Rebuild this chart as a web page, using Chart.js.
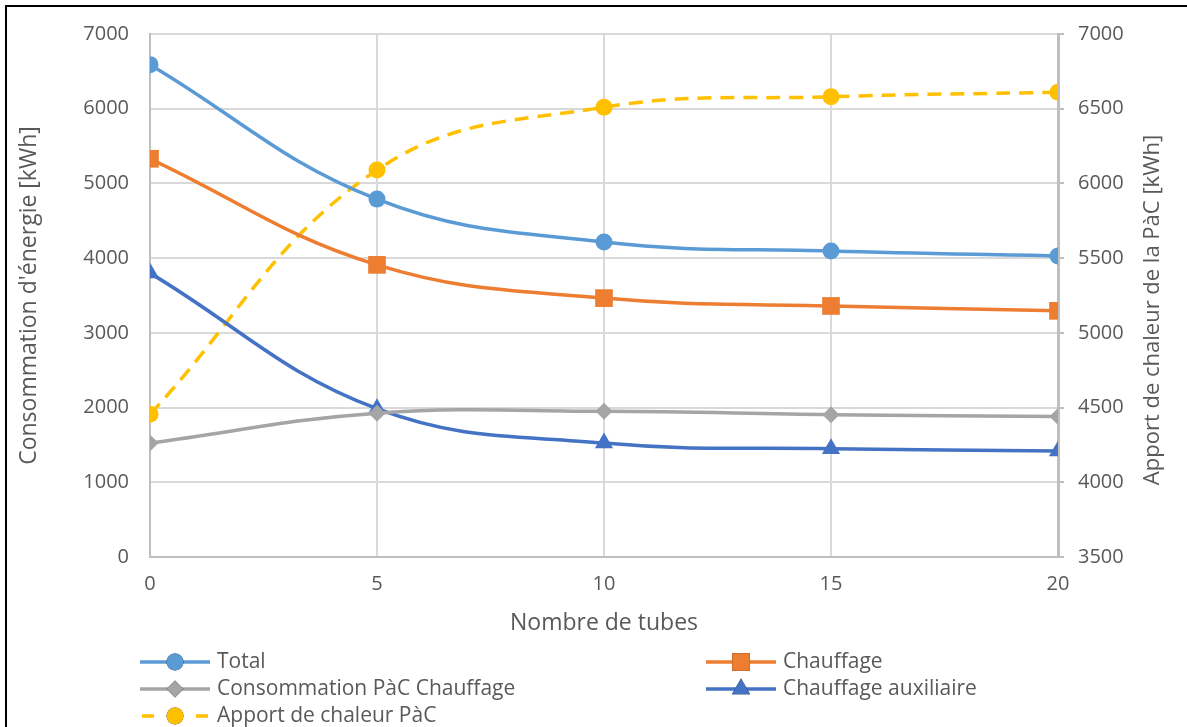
<!DOCTYPE html>
<html>
<head>
<meta charset="utf-8">
<script src="https://cdn.jsdelivr.net/npm/chart.js@4/dist/chart.umd.min.js"></script>
<style>
  html, body { margin: 0; padding: 0; background: #fff; }
  #wrap { position: relative; width: 1187px; height: 727px; }
</style>
</head>
<body>
<div id="wrap"><canvas id="tubesChart" width="1187" height="727"></canvas></div>
<script>
// Nombre de tubes (axe X)
const tubes = [0, 5, 10, 15, 20];

// Consommations (axe de gauche, kWh)
const total = [6590, 4790, 4215, 4095, 4030];
const chauffage = [5330, 3910, 3465, 3360, 3295];
const consoPac = [1525, 1925, 1950, 1905, 1880];
const chauffageAux = [3800, 1985, 1525, 1450, 1420];

// Apport de chaleur de la PàC (axe de droite, kWh)
const apportPac = [4455, 6090, 6510, 6580, 6610];

// Graduations des axes
const leftTicks = [0, 1000, 2000, 3000, 4000, 5000, 6000, 7000];
const rightTicks = [3500, 4000, 4500, 5000, 5500, 6000, 6500, 7000];

const FONT = "'Open Sans', sans-serif";
const TEXT = '#595959';
const rightTitle = 'Apport de chaleur de la PàC [kWh]';

function pts(vals) {
    return tubes.map((t, i) => ({ x: t, y: vals[i] }));
}

// cadre noir en haut et à gauche + titre de l'axe droit (lu de bas en haut)
const cadre = {
    id: 'cadre',
    beforeDraw(chart) {
        const c = chart.ctx;
        c.save();
        c.fillStyle = '#fff';
        c.fillRect(0, 0, chart.width, chart.height);
        c.fillStyle = '#000';
        c.fillRect(5, 5, chart.width - 5, 2);
        c.fillRect(5, 5, 2, chart.height - 5);
        c.restore();
    },
    afterDraw(chart) {
        const c = chart.ctx;
        c.save();
        c.translate(1153, 310);
        c.rotate(-Math.PI / 2);
        c.fillStyle = TEXT;
        c.font = '22px ' + FONT;
        c.textAlign = 'center';
        c.textBaseline = 'middle';
        c.fillText(rightTitle, 0, 0);
        c.restore();
    }
};

// légende sur deux colonnes, dessinée à partir des datasets
const legende = {
    id: 'legende',
    afterDraw(chart) {
        const c = chart.ctx;
        const cols = [140, 706];
        const rows = [662, 689, 716];
        chart.data.datasets.forEach((ds, i) => {
            const x = cols[i % 2];
            const y = rows[Math.floor(i / 2)];
            c.save();
            c.setLineDash([]);
            c.strokeStyle = ds.borderColor;
            c.lineWidth = ds.borderWidth;
            c.lineCap = 'butt';
            c.beginPath();
            if (ds.borderDash) {
                // un tiret de chaque côté du marqueur
                c.moveTo(x + 2, y); c.lineTo(x + 14, y);
                c.moveTo(x + 56, y); c.lineTo(x + 68, y);
            } else {
                c.moveTo(x, y); c.lineTo(x + 70, y);
            }
            c.stroke();
            Chart.helpers.drawPoint(c, {
                pointStyle: ds.pointStyle,
                radius: ds.pointRadius,
                borderWidth: 0
            }, x + 35, y);
            c.fillStyle = ds.backgroundColor;
            c.fill();
            c.fillStyle = TEXT;
            c.font = '21px ' + FONT;
            c.textBaseline = 'middle';
            c.fillText(ds.label, x + 77, y);
            c.restore();
        });
    }
};

function serie(label, data, color, style, axis, radius) {
    return {
        label: label,
        data: pts(data),
        yAxisID: axis,
        borderColor: color,
        backgroundColor: color,
        borderWidth: 3.5,
        pointStyle: style,
        pointRadius: radius,
        pointHoverRadius: radius,
        pointBorderWidth: 0,
        tension: 0.4,
        fill: false
    };
}

const datasets = [
    serie('Total', total, '#5B9BD5', 'circle', 'y', 8.5),
    serie('Chauffage', chauffage, '#ED7D31', 'rect', 'y', 12.5),
    serie('Consommation PàC Chauffage', consoPac, '#A5A5A5', 'rectRot', 'y', 8.5),
    serie('Chauffage auxiliaire', chauffageAux, '#4472C4', 'triangle', 'y', 10.5),
    serie('Apport de chaleur PàC', apportPac, '#FFC000', 'circle', 'y1', 8.5)
];
datasets[4].borderDash = [14, 9];

const plain = v => String(v);

const ctx = document.getElementById('tubesChart').getContext('2d');
new Chart(ctx, {
    type: 'line',
    data: { datasets: datasets },
    options: {
        responsive: false,
        animation: false,
        layout: { padding: { top: 34, left: 14, right: 18, bottom: 87 } },
        plugins: {
            legend: { display: false },
            tooltip: { enabled: false }
        },
        scales: {
            x: {
                type: 'linear',
                min: 0, max: 20,
                afterFit: s => { s.height = 83; },
                afterBuildTicks: s => { s.ticks = tubes.map(v => ({ value: v })); },
                grid: { color: '#d9d9d9', lineWidth: 2, drawTicks: false },
                border: { color: '#bfbfbf', width: 2 },
                ticks: { color: TEXT, font: { family: FONT, size: 20 }, padding: 15, callback: plain },
                title: { display: true, text: 'Nombre de tubes', color: TEXT, font: { family: FONT, size: 23 }, padding: 3 }
            },
            y: {
                position: 'left',
                min: 0, max: 7000,
                afterFit: s => { s.width = 136; },
                afterBuildTicks: s => { s.ticks = leftTicks.map(v => ({ value: v })); },
                grid: { color: '#d9d9d9', lineWidth: 2, drawTicks: false },
                border: { color: '#bfbfbf', width: 2 },
                ticks: { color: TEXT, font: { family: FONT, size: 20 }, padding: 21, callback: plain },
                title: { display: true, text: "Consommation d'énergie [kWh]", color: TEXT, font: { family: FONT, size: 23 }, padding: 2 }
            },
            y1: {
                position: 'right',
                min: 3500, max: 7000,
                afterFit: s => { s.width = 111; },
                afterBuildTicks: s => { s.ticks = rightTicks.map(v => ({ value: v })); },
                grid: { drawOnChartArea: false, color: '#bfbfbf', lineWidth: 2, tickLength: 6 },
                border: { color: '#bfbfbf', width: 3 },
                ticks: { color: TEXT, font: { family: FONT, size: 20 }, padding: 14, callback: plain },
                title: { display: false }
            }
        }
    },
    plugins: [cadre, legende]
});
</script>
</body>
</html>
